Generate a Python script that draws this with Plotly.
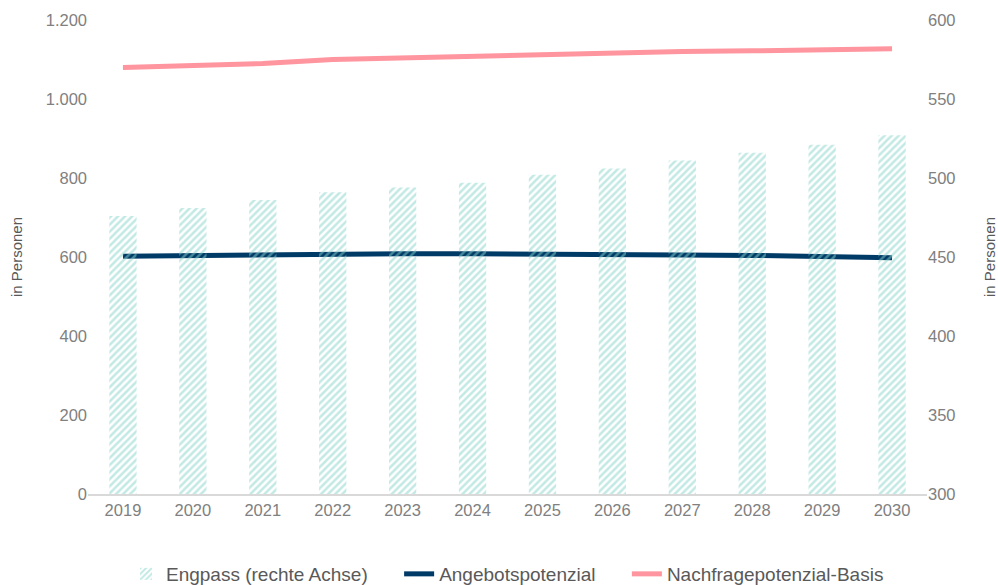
import plotly.graph_objects as go

years = [str(y) for y in range(2019, 2031)]
engpass = [476, 481, 486, 491, 494, 497, 502, 506, 511, 516, 521, 527]
angebot = [602, 604, 605, 607, 608, 608, 608, 607, 605, 604, 601, 598]
nachfrage = [1080, 1085, 1090, 1100, 1104, 1108, 1114, 1117, 1120, 1122, 1125, 1127]
names = ["Engpass (rechte Achse)", "Angebotspotenzial", "Nachfragepotenzial-Basis"]

pad = "\u00a0" * 5

fig = go.Figure()
fig.add_trace(go.Bar(
    x=years, y=[v - 300 for v in engpass], base=300, yaxis="y2",
    name=names[0] + pad, width=0.39,
    marker=dict(color="rgba(255,255,255,0)", line=dict(width=0),
                pattern=dict(shape="/", fgcolor="#86d3c9", bgcolor="rgba(255,255,255,0)",
                             size=5, solidity=0.5)),
    hovertemplate="%{x}: %{customdata}<extra></extra>", customdata=engpass,
))
fig.add_trace(go.Scatter(
    x=years, y=angebot, mode="lines", name=names[1] + pad,
    line=dict(color="#003a66", width=5)))
fig.add_trace(go.Scatter(
    x=years, y=nachfrage, mode="lines", name=names[2],
    line=dict(color="#ff959e", width=5)))

tickfont = dict(family="Liberation Sans, Arial", size=16.5, color="#808080")
titlefont = dict(family="Liberation Sans, Arial", size=15, color="#595959")
fig.update_layout(
    width=998, height=585,
    margin=dict(l=88, r=71, t=20, b=91, autoexpand=False),
    paper_bgcolor="white", plot_bgcolor="white",
    separators=",.",
    bargap=0.6,
    font=dict(family="Liberation Sans, Arial", color="#595959"),
    xaxis=dict(showline=True, linecolor="#d9d9d9", linewidth=2, ticks="",
               tickfont=tickfont, showgrid=False),
    yaxis=dict(range=[0, 1200], dtick=200, showgrid=False, zeroline=False,
               tickfont=tickfont, separatethousands=True, tickformat=",d",
               title=dict(text="in Personen", font=titlefont, standoff=19)),
    yaxis2=dict(range=[300, 600], dtick=50, overlaying="y", side="right",
                showgrid=False, zeroline=False, tickfont=tickfont,
                title=dict(text="in Personen", font=titlefont, standoff=30)),
    legend=dict(orientation="h", x=0.5, xanchor="center",
                yref="container", y=11/585, yanchor="middle",
                font=dict(size=19, color="#595959"), itemwidth=30, tracegroupgap=0),
    showlegend=True,
)
fig.write_html("out.html")
